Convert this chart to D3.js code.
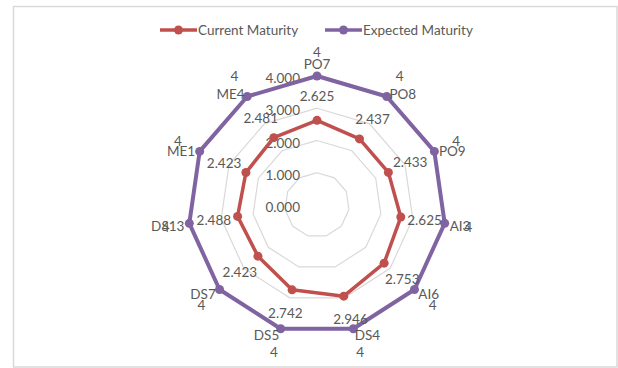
<!DOCTYPE html>
<html>
<head>
<meta charset="utf-8">
<script src="https://cdn.jsdelivr.net/npm/d3@7"></script>
<style>
  html, body { margin: 0; padding: 0; background: #fff; }
  svg { display: block; font-family: Lato, "Open Sans", sans-serif; }
  text { fill: #595959; }
</style>
</head>
<body>
<svg id="chart" width="618" height="368"></svg>
<script>
// COBIT processes, clockwise from the top
const categories = ["PO7", "PO8", "PO9", "AI3", "AI6", "DS4", "DS5", "DS7", "DS13", "ME1", "ME4"];
const currentMaturity = [2.625, 2.437, 2.433, 2.625, 2.753, 2.946, 2.742, 2.423, 2.488, 2.423, 2.481];
const expectedMaturity = [4, 4, 4, 4, 4, 4, 4, 4, 4, 4, 4];
const ringTicks = [0, 1, 2, 3, 4];
const seriesNames = ["Current Maturity", "Expected Maturity"];
const seriesColors = ["#C0504D", "#8064A2"];

const svg = d3.select("#chart");
const cx = 317, cy = 205, R = 129;
const fontSize = "13.5px";

// chart frame
svg.append("rect")
  .attr("x", 13.5).attr("y", 6.5)
  .attr("width", 603.5).attr("height", 360.5)
  .attr("fill", "#fff").attr("stroke", "#d9d9d9").attr("stroke-width", 1.5);

const r = d3.scaleLinear().domain([0, 4]).range([0, R]);
const angle = d3.scaleBand().domain(categories).range([0, 2 * Math.PI]).padding(0);

const g = svg.append("g").attr("transform", `translate(${cx},${cy})`);

const polar = (cat, rad) => {
  const a = angle(cat);
  return [rad * Math.sin(a), -rad * Math.cos(a)];
};

// grid rings
const ring = d3.lineRadial()
  .angle(d => angle(d))
  .curve(d3.curveLinearClosed);
g.selectAll("path.ring")
  .data(ringTicks.filter(t => t > 0))
  .join("path")
  .attr("class", "ring")
  .attr("d", t => ring.radius(() => r(t))(categories))
  .attr("fill", "none")
  .attr("stroke", "#d9d9d9")
  .attr("stroke-width", 1.2);

// ring value labels
g.selectAll("text.tick")
  .data(ringTicks)
  .join("text")
  .attr("class", "tick")
  .attr("x", -17)
  .attr("y", t => -r(t) + 2)
  .attr("text-anchor", "end")
  .attr("dominant-baseline", "central")
  .style("font-size", fontSize)
  .text(t => d3.format(".3f")(t));

// series polygons and markers
const seriesData = [currentMaturity, expectedMaturity];
const seriesLine = d3.lineRadial()
  .angle((d, i) => angle(categories[i]))
  .radius(d => r(d))
  .curve(d3.curveLinearClosed);

seriesData.forEach((vals, s) => {
  const sg = g.append("g");
  sg.append("path")
    .attr("d", seriesLine(vals))
    .attr("fill", "none")
    .attr("stroke", seriesColors[s])
    .attr("stroke-width", s === 1 ? 4 : 3.5)
    .attr("stroke-linejoin", "round");
  sg.selectAll("circle")
    .data(vals)
    .join("circle")
    .attr("cx", (d, i) => polar(categories[i], r(d))[0])
    .attr("cy", (d, i) => polar(categories[i], r(d))[1])
    .attr("r", 4.5)
    .attr("fill", seriesColors[s]);
});

// category labels just outside the outer ring
g.selectAll("text.cat")
  .data(categories)
  .join("text")
  .attr("class", "cat")
  .each(function (c) {
    const s = Math.sin(angle(c));
    const [x, y] = polar(c, R + 5);
    const t = d3.select(this);
    if (Math.abs(s) < 0.05) {
      t.attr("x", x).attr("y", y - 2).attr("text-anchor", "middle");
    } else {
      t.attr("x", x).attr("y", y + 1.5)
        .attr("text-anchor", s > 0 ? "start" : "end")
        .attr("dominant-baseline", "central");
    }
  })
  .style("font-size", fontSize)
  .text(c => c);

// data value labels, pushed outward along each spoke
seriesData.forEach((vals, s) => {
  g.append("g").selectAll("text")
    .data(vals)
    .join("text")
    .attr("x", (d, i) => polar(categories[i], r(d) + 24)[0])
    .attr("y", (d, i) => polar(categories[i], r(d) + 24)[1])
    .attr("text-anchor", "middle")
    .attr("dominant-baseline", "central")
    .style("font-size", fontSize)
    .text(d => s === 0 ? d3.format(".3f")(d) : d3.format("d")(d));
});

// legend
const legend = svg.append("g").attr("transform", "translate(160,30)");
const legendItems = legend.selectAll("g")
  .data(seriesNames)
  .join("g")
  .attr("transform", (d, i) => `translate(${i * 165},0)`);
legendItems.append("line")
  .attr("x1", 0).attr("x2", 37)
  .attr("stroke", (d, i) => seriesColors[i])
  .attr("stroke-width", 3.5);
legendItems.append("circle")
  .attr("cx", 18.5).attr("r", 4.5)
  .attr("fill", (d, i) => seriesColors[i]);
legendItems.append("text")
  .attr("x", 38)
  .attr("dominant-baseline", "central")
  .style("font-size", fontSize)
  .text(d => d);
</script>
</body>
</html>
